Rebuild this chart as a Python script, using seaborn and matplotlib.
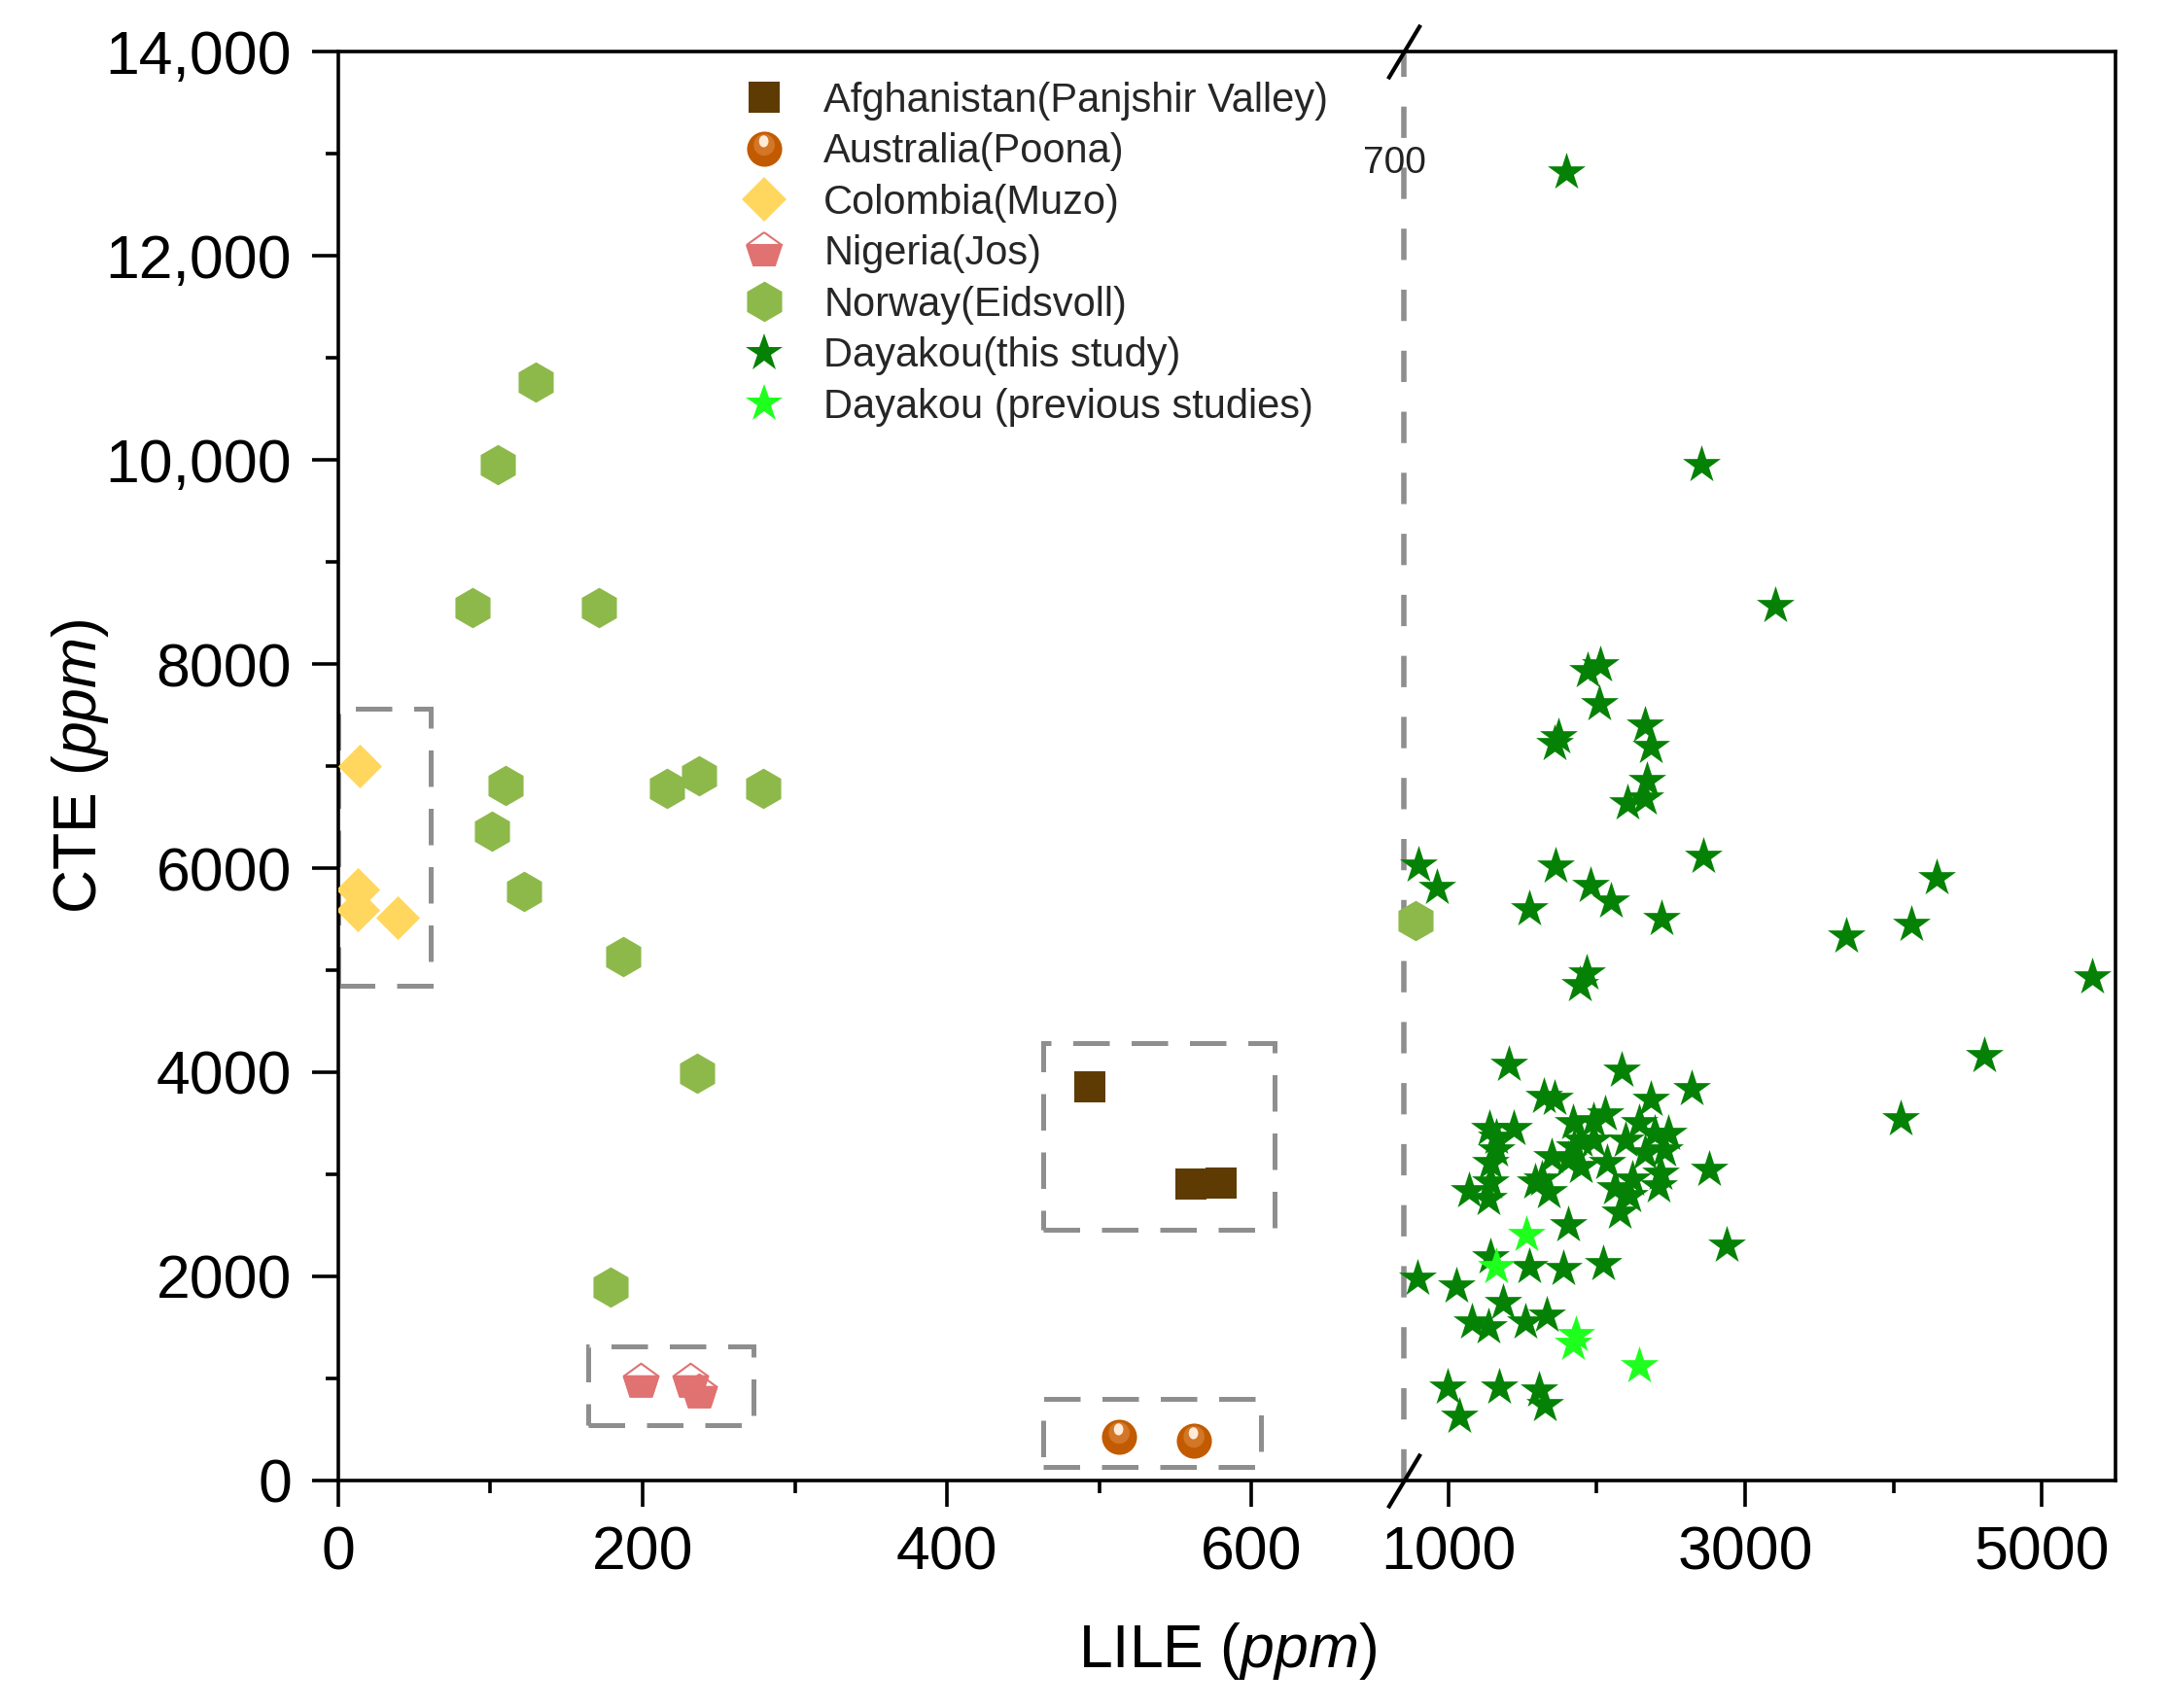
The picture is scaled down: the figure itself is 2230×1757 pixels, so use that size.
import numpy as np
import pandas as pd
import matplotlib
matplotlib.use("Agg")
import matplotlib.pyplot as plt
import seaborn as sns
from matplotlib.path import Path
from matplotlib.markers import MarkerStyle
from matplotlib.lines import Line2D
from matplotlib.patches import Rectangle
from matplotlib.legend_handler import HandlerTuple
from matplotlib.ticker import FixedLocator, FuncFormatter, MultipleLocator
import matplotlib.transforms as mtransforms

# values (ppm)
afg_lile = [494, 560, 580]
afg_cte = [3855, 2900, 2918]

aus_lile = [513, 562]
aus_cte = [425, 390]

col_lile = [14, 13, 13, 39]
col_cte = [7000, 5790, 5590, 5515]

nig_lile = [199, 231, 237]
nig_cte = [968, 968, 867]

nor_lile = [130, 105, 88, 171, 110, 101, 216, 237, 279, 122, 187, 236, 179, 782]
nor_cte = [10760, 9950, 8550, 8550, 6805, 6360, 6785, 6905, 6785, 5770, 5135, 3990, 1895, 5490]

day_lile = [1793, 2706, 3203, 1937, 2028, 2018, 1745, 1719, 2329, 2368, 2336, 2209, 2329,
            797, 924, 1726, 1959, 2100, 1545, 2438, 2721, 3680, 1930, 1887,
            4294, 4120, 5340, 4612, 4050,
            1410, 2172, 2641, 1647, 1719, 2368, 2057, 1839, 1277, 1440, 2286, 2394, 2482,
            1850, 1980, 1327, 1283, 1697, 1893, 2434, 2758, 1142, 1272, 1588, 1675, 2122,
            2242, 2155, 1806, 2874, 1283, 1545, 1773, 2046, 793, 1054, 1370, 1163, 1272,
            1523, 1665, 993, 1076, 1344, 1610, 1654,
            1980, 2198, 2329, 2460, 1893, 2068, 2416, 2220, 1632, 1327, 1283, 1806]
day_cte = [12823, 9952, 8567, 7938, 7986, 7605, 7290, 7220, 7398, 7192, 6859, 6636, 6683,
           6032, 5810, 6019, 5826, 5680, 5604, 5508, 6112, 5335, 4968, 4857,
           5906, 5445, 4937, 4158, 3539,
           4079, 4015, 3841, 3761, 3745, 3729, 3586, 3507, 3443, 3443, 3507, 3396, 3396,
           3269, 3332, 3237, 3110, 3173, 3078, 3014, 3047, 2840, 2761, 2919, 2824, 2871,
           2951, 2633, 2506, 2300, 2189, 2094, 2078, 2125, 1982, 1903, 1744, 1553, 1506,
           1553, 1617, 918, 632, 918, 886, 743,
           3523, 3332, 3205, 3237, 3332, 3110, 2887, 2792, 2951, 3364, 2919, 3141]

prev_lile = [1527, 1322, 1839, 1861, 2290]
prev_cte = [2411, 2094, 1347, 1427, 1125]

groups = ["Afghanistan(Panjshir Valley)", "Australia(Poona)", "Colombia(Muzo)",
          "Nigeria(Jos)", "Norway(Eidsvoll)", "Dayakou(this study)",
          "Dayakou (previous studies)"]

x_ticks = [0, 200, 400, 600, 1000, 3000, 5000]
x_minor = [100, 300, 500, 2000, 4000]
x_break = 700

frames = []
for name, xs, ys in zip(groups,
                        [afg_lile, aus_lile, col_lile, nig_lile, nor_lile, day_lile, prev_lile],
                        [afg_cte, aus_cte, col_cte, nig_cte, nor_cte, day_cte, prev_cte]):
    frames.append(pd.DataFrame({"LILE": xs, "CTE": ys, "group": name}))
df = pd.concat(frames, ignore_index=True)

sns.set_theme(style="ticks")
plt.rcParams["font.family"] = ["Liberation Sans", "DejaVu Sans"]
plt.rcParams["mathtext.fontset"] = "custom"
plt.rcParams["mathtext.rm"] = "Liberation Sans"
plt.rcParams["mathtext.it"] = "Liberation Sans:italic"

# broken x axis: linear up to 700, compressed above
k = 0.0975


def fwd(x):
    x = np.asarray(x, dtype=float)
    return np.where(x <= x_break, x, x_break + (x - x_break) * k)


def inv(x):
    x = np.asarray(x, dtype=float)
    return np.where(x <= x_break, x, x_break + (x - x_break) / k)


brown = "#5E3B02"
orange = "#C25B00"
gold = "#FFD75E"
salmon = "#E07272"
olive = "#8DB94A"
dgreen = "#058205"
lime = "#1EFF1E"
gray = "#8E8E8E"


# sphere shading markers (sphere radius = 1 in path units)
def offset_ellipse(sx, sy, dx, dy):
    p = Path.unit_circle().transformed(mtransforms.Affine2D().scale(sx, sy).translate(dx, dy))
    return p, np.abs(p.vertices).max()


glow_path, glow_R = offset_ellipse(0.6, 0.62, -0.02, 0.25)
hl_path, hl_R = offset_ellipse(0.27, 0.34, -0.05, 0.45)

ms = {"sq": 23, "o": 26, "D": 23, "p": 27, "h": 30, "*": 29.5}

fig = plt.figure(figsize=(22.3, 17.57), dpi=100)
ax = fig.add_axes([0.156, 0.1332, 0.82, 0.8366])
ax.set_xscale("function", functions=(fwd, inv))

sub = lambda g: df[df["group"] == g]

sns.scatterplot(data=sub(groups[4]), x="LILE", y="CTE", marker="h", s=ms["h"] ** 2,
                color=olive, linewidth=0, ax=ax, legend=False, zorder=3)
sns.scatterplot(data=sub(groups[2]), x="LILE", y="CTE", marker="D", s=ms["D"] ** 2,
                color=gold, linewidth=0, ax=ax, legend=False, zorder=3)
sns.scatterplot(data=sub(groups[0]), x="LILE", y="CTE", marker="s", s=ms["sq"] ** 2,
                color=brown, linewidth=0, ax=ax, legend=False, zorder=3)
sns.scatterplot(data=sub(groups[1]), x="LILE", y="CTE", marker="o", s=ms["o"] ** 2,
                color=orange, linewidth=0, ax=ax, legend=False, zorder=3)
sns.scatterplot(data=sub(groups[1]), x="LILE", y="CTE", marker=glow_path,
                s=(ms["o"] * glow_R) ** 2, color="#D27628", linewidth=0, ax=ax,
                legend=False, zorder=3)
sns.scatterplot(data=sub(groups[1]), x="LILE", y="CTE", marker=hl_path,
                s=(ms["o"] * hl_R) ** 2, color="#FFEBD8", linewidth=0, ax=ax,
                legend=False, zorder=3)
sns.scatterplot(data=sub(groups[3]), x="LILE", y="CTE", marker="p", s=ms["p"] ** 2,
                color="white", edgecolor=salmon, linewidth=1.5, ax=ax, legend=False, zorder=3)
sns.scatterplot(data=sub(groups[3]), x="LILE", y="CTE",
                marker=MarkerStyle("p", fillstyle="bottom"), s=ms["p"] ** 2,
                color=salmon, edgecolor=salmon, linewidth=1.5, ax=ax, legend=False, zorder=3)
sns.scatterplot(data=sub(groups[5]), x="LILE", y="CTE", marker="*", s=ms["*"] ** 2,
                color=dgreen, linewidth=0, ax=ax, legend=False, zorder=3)
sns.scatterplot(data=sub(groups[6]), x="LILE", y="CTE", marker="*", s=ms["*"] ** 2,
                color=lime, linewidth=0, ax=ax, legend=False, zorder=3)

# dashed boxes around the reference localities: padding (left, right, bottom, top)
box_pad = {groups[2]: (13, 22, 670, 560), groups[3]: (35, 36, 324, 348),
           groups[0]: (31, 35, 444, 433), groups[1]: (50, 44, 254, 375)}
for g, (pl, pr, pb, pt) in box_pad.items():
    d = sub(g)
    x0, x1 = d["LILE"].min() - pl, d["LILE"].max() + pr
    y0, y1 = d["CTE"].min() - pb, d["CTE"].max() + pt
    ax.add_patch(Rectangle((x0, y0), x1 - x0, y1 - y0, fill=False, edgecolor=gray,
                           lw=3.6, ls=(0, (7.5, 4.5)), zorder=2))

ax.axvline(x_break, color=gray, lw=4, ls=(0, (5.8, 5.5)), zorder=1)
ax.annotate(str(x_break), xy=(x_break, 0.922), xycoords=ax.get_xaxis_transform(),
            xytext=(-7, 0), textcoords="offset points", ha="center", va="center",
            fontsize=28, color="#222222")

slash = Path([(-0.3, -0.5), (0.3, 0.5)], [Path.MOVETO, Path.LINETO])
ax.plot([x_break, x_break], [0, 14000], ls="none", marker=slash, ms=40, mew=3,
        color="black", clip_on=False, zorder=6)

ax.set_xlim(0, 5500)
ax.set_ylim(0, 14000)
ax.xaxis.set_major_locator(FixedLocator(x_ticks))
ax.xaxis.set_minor_locator(FixedLocator(x_minor))
ax.xaxis.set_major_formatter(FuncFormatter(lambda v, p: f"{v:.0f}"))
ax.yaxis.set_major_locator(MultipleLocator(2000))
ax.yaxis.set_minor_locator(MultipleLocator(1000))
ax.yaxis.set_major_formatter(FuncFormatter(lambda v, p: f"{v:,.0f}" if v >= 10000 else f"{v:.0f}"))

for s in ax.spines.values():
    s.set_linewidth(2.6)
    s.set_color("black")
ax.tick_params(axis="both", which="major", direction="out", length=19.5, width=2.6,
               labelsize=45, color="black", labelcolor="black")
ax.tick_params(axis="both", which="minor", direction="out", length=9.5, width=2.6,
               color="black")
ax.tick_params(axis="y", which="major", pad=15)
ax.tick_params(axis="x", which="major", pad=13)

ax.set_xlabel("LILE ($\\mathit{ppm}$)", fontsize=45, color="black")
ax.set_ylabel("CTE ($\\mathit{ppm}$)", fontsize=45, color="black")
ax.xaxis.set_label_coords(0.5, -0.098)
ax.yaxis.set_label_coords(-0.128, 0.5)

handles = [
    Line2D([], [], ls="none", marker="s", ms=ms["sq"], mfc=brown, mew=0),
    (Line2D([], [], ls="none", marker="o", ms=ms["o"], mfc=orange, mew=0),
     Line2D([], [], ls="none", marker=glow_path, ms=ms["o"] * glow_R, mfc="#D27628", mew=0),
     Line2D([], [], ls="none", marker=hl_path, ms=ms["o"] * hl_R, mfc="#FFEBD8", mew=0)),
    Line2D([], [], ls="none", marker="D", ms=ms["D"], mfc=gold, mew=0),
    Line2D([], [], ls="none", marker="p", ms=ms["p"], fillstyle="bottom", mfc=salmon,
           mfcalt="white", mec=salmon, mew=1.5),
    Line2D([], [], ls="none", marker="h", ms=ms["h"], mfc=olive, mew=0),
    Line2D([], [], ls="none", marker="*", ms=ms["*"], mfc=dgreen, mew=0),
    Line2D([], [], ls="none", marker="*", ms=ms["*"], mfc=lime, mew=0),
]
ax.legend(handles, groups, loc="upper left", bbox_to_anchor=(0.2253, 0.979),
          frameon=False, fontsize=30, handlelength=1.25, handletextpad=0.85,
          labelspacing=0.3, borderpad=0, borderaxespad=0,
          handler_map={tuple: HandlerTuple(ndivide=1, pad=0)})

fig.savefig("out.png", dpi=100, facecolor="white")
